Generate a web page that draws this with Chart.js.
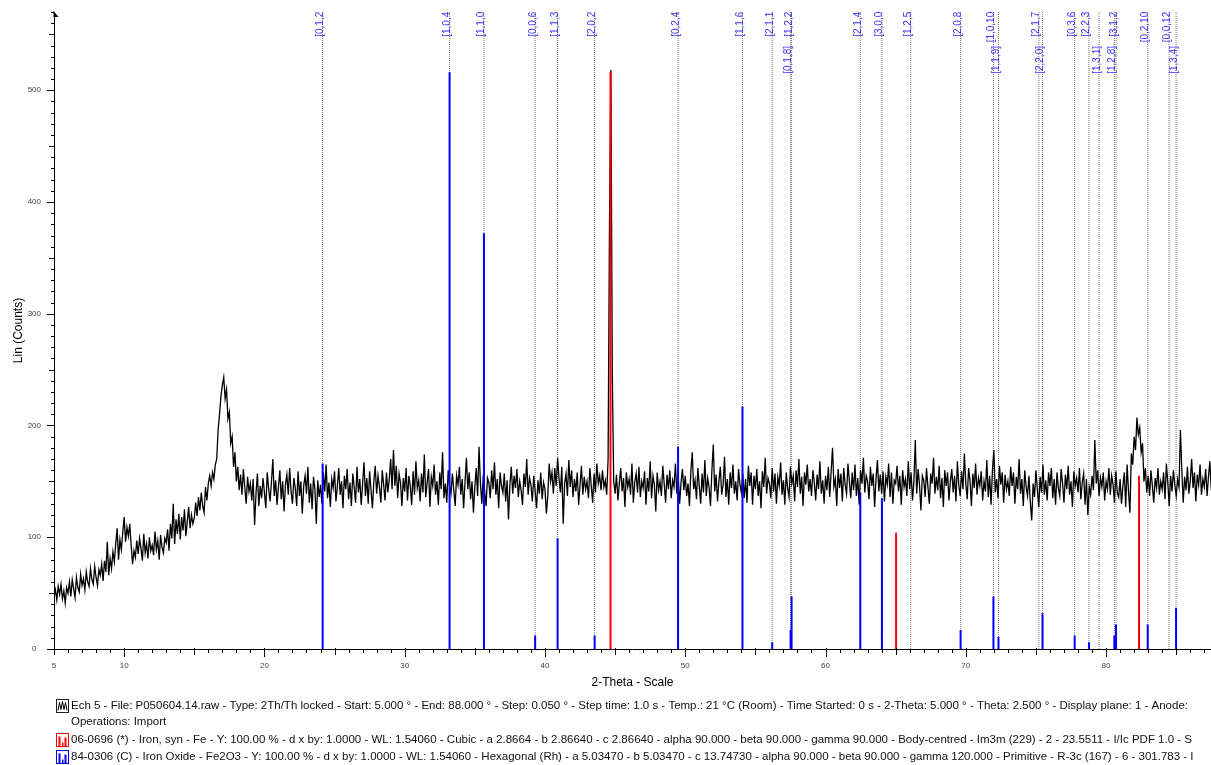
<!DOCTYPE html>
<html>
<head>
<meta charset="utf-8">
<script src="https://cdn.jsdelivr.net/npm/chart.js@4.4.1/dist/chart.umd.min.js"></script>
<style>
  html, body { margin: 0; padding: 0; background: #fff; overflow: hidden; }
  #wrap { width: 1211px; height: 765px; position: relative; }
</style>
</head>
<body>
<div id="wrap"><canvas id="xrd" width="1211" height="765"></canvas></div>
<script>
// Scan "Ech 5": 2-Theta from 5.0 to 88.0 deg, counts every 0.1 deg
const scanStart = 5.0;
const scanStep = 0.1;
const counts = [
  47,53,44,56,49,58,45,52,41,55,
  50,60,47,62,54,46,64,55,51,67,
  57,63,53,69,60,56,72,62,58,74,
  64,57,71,66,76,61,79,69,96,66,
  81,72,87,78,94,108,80,98,89,104,
  118,96,109,101,112,93,76,88,82,97,
  85,99,90,79,103,86,94,81,100,88,
  93,84,105,89,97,80,102,91,86,99,
  95,107,88,112,99,130,94,116,103,121,
  98,118,106,125,101,114,127,108,120,112,
  117,131,119,136,124,140,128,122,145,133,
  148,155,146,158,152,165,170,196,210,226,
  236,243,224,232,206,212,184,190,163,176,
  150,163,142,156,138,161,145,130,154,141,
  148,133,152,111,139,157,128,146,135,153,
  140,126,158,144,132,149,170,137,151,129,
  145,160,134,150,123,147,156,138,162,141,
  130,153,144,128,159,137,150,121,146,155,
  139,163,131,148,125,154,143,112,151,136,
  147,130,158,141,165,135,149,127,152,144,
  159,132,146,162,138,150,126,155,143,161,
  134,149,128,157,145,131,163,140,152,129,
  148,167,137,153,130,159,142,126,150,164,
  139,155,145,131,160,147,133,158,140,152,
  170,143,178,146,164,135,157,149,128,153,
  141,162,133,155,146,129,159,138,168,144,
  151,132,157,140,174,136,149,161,127,154,
  146,165,138,150,129,158,143,176,135,148,
  131,160,145,139,157,142,128,155,147,163,
  138,152,126,149,171,143,158,134,150,122,
  145,162,137,181,148,130,156,141,128,153,
  149,135,160,143,167,138,152,126,158,146,
  140,157,132,151,116,147,163,139,155,144,
  161,136,150,142,129,157,145,170,138,153,
  147,132,155,141,126,151,139,158,134,149,
  143,121,137,166,150,158,139,162,146,171,
  153,140,163,112,148,157,137,169,145,160,
  136,152,141,158,129,147,164,138,154,143,
  150,135,162,146,131,157,140,166,148,155,
  142,160,145,151,138,170,380,518,245,150,
  139,156,133,148,162,141,153,127,158,145,
  152,138,166,131,149,157,140,163,136,150,
  144,159,129,153,141,168,135,155,147,123,
  158,142,150,137,164,148,131,156,143,160,
  135,151,145,166,139,154,130,149,161,142,
  155,137,148,128,159,176,143,151,134,162,
  146,130,157,140,169,137,153,145,128,160,
  183,141,156,132,150,163,138,147,172,136,
  152,129,158,144,165,139,150,133,161,147,
  140,157,135,152,131,164,146,158,129,155,
  143,161,137,150,126,159,145,171,139,153,
  148,135,162,141,157,130,154,146,167,138,
  151,129,158,144,136,163,148,155,132,160,
  145,170,139,154,128,158,147,165,141,152,
  137,160,149,133,156,143,168,139,151,130,
  155,142,163,136,159,180,145,152,128,161,
  144,157,132,162,147,139,166,150,135,158,
  142,165,137,153,129,160,148,171,140,155,
  150,134,163,146,157,127,152,169,141,156,
  139,159,132,154,147,166,136,158,130,151,
  148,164,141,155,129,160,145,152,137,168,
  143,158,133,150,187,139,161,147,124,155,
  151,136,162,145,130,157,148,171,139,154,
  142,164,135,153,127,160,146,158,133,150,
  161,140,155,132,168,147,137,159,143,175,
  148,134,162,151,128,157,144,166,138,153,
  146,159,133,150,141,169,136,155,129,160,
  178,140,152,135,164,147,158,131,156,143,
  150,137,163,146,158,130,154,143,170,139,
  152,128,160,145,137,155,131,115,148,136,
  160,143,127,154,140,165,138,151,133,158,
  146,162,135,152,129,158,144,137,161,148,
  131,156,143,164,138,150,127,159,146,153,
  140,162,134,149,157,129,152,120,145,138,
  155,142,187,148,160,137,153,145,158,133,
  150,143,162,138,155,147,131,159,140,136,
  152,130,146,158,127,165,141,122,175,165,
  190,178,207,192,198,176,184,150,162,140,
  155,137,160,146,131,153,144,162,138,150,
  143,158,134,166,149,128,155,141,160,147,
  137,152,145,196,160,131,154,142,163,139,
  150,170,144,158,132,156,147,165,138,152,
  145,161,137,154,168,142,159,150,171,148,
  155
];

// 06-0696 (*) Iron, syn - Fe : reflection positions (deg 2-Theta) and scaled heights
const fePos = [44.67, 65.03, 82.35];
const feInt = [516, 104, 155];

// 84-0306 (C) Iron Oxide - Fe2O3 : hkl, positions (deg 2-Theta) and scaled heights
const hemHkl = ['[0,1,2]', '[1,0,4]', '[1,1,0]', '[0,0,6]', '[1,1,3]', '[2,0,2]', '[0,2,4]', '[1,1,6]', '[2,1,1]',
                '[1,2,2]', '[0,1,8]', '[2,1,4]', '[3,0,0]', '[1,2,5]', '[2,0,8]', '[1,0,10]', '[1,1,9]', '[2,1,7]',
                '[2,2,0]', '[0,3,6]', '[2,2,3]', '[1,3,1]', '[3,1,2]', '[1,2,8]', '[0,2,10]', '[0,0,12]', '[1,3,4]'];
const hemPos = [24.15, 33.20, 35.65, 39.30, 40.90, 43.54, 49.49, 54.08, 56.20,
                57.58, 57.51, 62.48, 64.02, 66.07, 69.63, 71.97, 72.33, 75.21,
                75.47, 77.76, 78.78, 79.50, 80.71, 80.59, 82.97, 84.49, 84.99];
const hemInt = [166, 516, 372, 12, 99, 12, 181, 217, 6,
                47, 17, 140, 135, 0, 17, 47, 11, 0,
                32, 12, 6, 0, 22, 12, 22, 0, 37];

// axis tick labels
const xTickLabels = [5, 10, 20, 30, 40, 50, 60, 70, 80];
const yTickLabels = [0, 100, 200, 300, 400, 500];

// legend lines under the plot
const legendKinds = ['scan', 'none', 'sticks', 'sticks'];
const legendColors = ['#000000', '#000000', '#ff0000', '#0000ff'];
const legendTexts = [
  'Ech 5 - File: P050604.14.raw - Type: 2Th/Th locked - Start: 5.000 ° - End: 88.000 ° - Step: 0.050 ° - Step time: 1.0 s - Temp.: 21 °C (Room) - Time Started: 0 s - 2-Theta: 5.000 ° - Theta: 2.500 ° - Display plane: 1 - Anode:',
  'Operations: Import',
  '06-0696 (*) - Iron, syn - Fe - Y: 100.00 % - d x by: 1.0000 - WL: 1.54060 - Cubic - a 2.8664 - b 2.86640 - c 2.86640 - alpha 90.000 - beta 90.000 - gamma 90.000 - Body-centred - Im3m (229) - 2 - 23.5511 - I/Ic PDF 1.0 - S',
  '84-0306 (C) - Iron Oxide - Fe2O3 - Y: 100.00 % - d x by: 1.0000 - WL: 1.54060 - Hexagonal (Rh) - a 5.03470 - b 5.03470 - c 13.74730 - alpha 90.000 - beta 90.000 - gamma 120.000 - Primitive - R-3c (167) - 6 - 301.783 - I'
];

const X_MIN = 5, X_MAX = 87.48, Y_MAX = 570;
const FONT = '"Liberation Sans", Arial, Helvetica, sans-serif';
Chart.defaults.font.family = FONT;

const scanPoints = counts.map((c, i) => ({ x: Math.round((scanStart + i * scanStep) * 100) / 100, y: c }));

// vertical segments from a base value up to a top value, separated by gaps
function sticks(pos, tops) {
  const pts = [];
  pos.forEach((p, i) => { pts.push({ x: p, y: 0 }, { x: p, y: tops[i] }, { x: p, y: null }); });
  return pts;
}

// fixed scale boxes without the extra edge padding added for tick labels
function fixBox(size) {
  return s => {
    if (s.isHorizontal()) s.height = size; else s.width = size;
    s.paddingLeft = 0; s.paddingRight = 0; s.paddingTop = 0; s.paddingBottom = 0;
  };
}

const decor = {
  id: 'decor',
  afterDraw(chart) {
    const { ctx, chartArea: a, scales: { x, y } } = chart;
    const y0 = y.getPixelForValue(0);
    ctx.save();

    // axis lines
    ctx.strokeStyle = '#000';
    ctx.lineWidth = 1;
    ctx.beginPath();
    ctx.moveTo(a.left, y0 + 0.5); ctx.lineTo(a.right, y0 + 0.5);
    ctx.moveTo(a.left + 0.5, y0); ctx.lineTo(a.left + 0.5, a.top);
    ctx.stroke();

    // arrow head on the intensity axis
    ctx.fillStyle = '#000';
    ctx.beginPath();
    ctx.moveTo(a.left - 0.5, a.top - 1);
    ctx.lineTo(a.left + 4.5, a.top + 5);
    ctx.lineTo(a.left - 0.5, a.top + 5);
    ctx.closePath();
    ctx.fill();

    // tick marks
    ctx.beginPath();
    for (let t = Math.ceil(X_MIN); t <= X_MAX; t++) {
      const px = Math.round(x.getPixelForValue(t)) + 0.5;
      const len = t % 10 === 0 ? 7 : (t % 5 === 0 ? 5 : 3);
      ctx.moveTo(px, y0 + (t % 5 === 0 ? -1 : 0));
      ctx.lineTo(px, y0 + 1 + len);
    }
    for (let v = 0; v <= Y_MAX; v += 10) {
      const py = Math.round(y.getPixelForValue(v)) + 0.5;
      const len = v % 100 === 0 ? 7 : (v % 50 === 0 ? 5 : 3);
      ctx.moveTo(a.left, py);
      ctx.lineTo(a.left - len, py);
    }
    ctx.stroke();

    // hkl labels of the Fe2O3 reflections, two tiers when crowded
    ctx.save();
    ctx.beginPath();
    ctx.rect(a.left, a.top, a.right - a.left, a.bottom - a.top);
    ctx.clip();
    ctx.fillStyle = 'rgb(52,52,255)';
    ctx.font = '10px ' + FONT;
    const placed = [];
    hemHkl.forEach((lab, i) => {
      const px = x.getPixelForValue(hemPos[i]);
      const crowded = placed.some(q => Math.abs(q - px) < 12);
      if (!crowded) placed.push(px);
      const yEnd = crowded ? a.top + 34 : a.top - 3;
      ctx.save();
      ctx.translate(px + 0.5, yEnd);
      ctx.rotate(-Math.PI / 2);
      ctx.textAlign = 'right';
      ctx.textBaseline = 'alphabetic';
      ctx.fillText(lab, 0, 0);
      ctx.restore();
    });
    ctx.restore();

    // legend rows
    const rowY = [705.5, 722, 739.5, 756.5];
    ctx.font = '11.5px ' + FONT;
    ctx.textBaseline = 'middle';
    ctx.textAlign = 'left';
    legendTexts.forEach((txt, i) => {
      const cy = rowY[i];
      const col = legendColors[i];
      const bx = 56.5, by = Math.round(cy - 6.5) + 0.5;
      if (legendKinds[i] === 'scan') {
        ctx.strokeStyle = '#222';
        ctx.lineWidth = 1;
        ctx.strokeRect(bx, by, 12, 13);
        ctx.strokeStyle = '#000';
        ctx.beginPath();
        ctx.moveTo(bx + 1.5, by + 11);
        ctx.lineTo(bx + 3, by + 3);
        ctx.lineTo(bx + 4.5, by + 10);
        ctx.lineTo(bx + 6, by + 2);
        ctx.lineTo(bx + 7.5, by + 10);
        ctx.lineTo(bx + 9, by + 3);
        ctx.lineTo(bx + 10.5, by + 11);
        ctx.stroke();
      } else if (legendKinds[i] === 'sticks') {
        ctx.strokeStyle = col;
        ctx.lineWidth = 1;
        ctx.strokeRect(bx, by, 12, 13);
        ctx.fillStyle = col;
        ctx.fillRect(bx + 2, by + 3, 2, 10);
        ctx.fillRect(bx + 5.5, by + 9, 1.5, 4);
        ctx.fillRect(bx + 8, by + 4, 2, 9);
      }
      ctx.fillStyle = '#111';
      ctx.fillText(txt, 71, cy);
    });

    ctx.restore();
  }
};

new Chart(document.getElementById('xrd'), {
  type: 'line',
  data: {
    datasets: [
      { label: '84-0306 positions', data: sticks(hemPos, hemPos.map(() => Y_MAX)), borderColor: '#7a7a7a',
        borderWidth: 1, borderDash: [1, 1], pointRadius: 0, spanGaps: false, order: 3 },
      { label: 'Ech 5', data: scanPoints, borderColor: '#000', borderWidth: 1.3, pointRadius: 0, order: 2 },
      { label: '06-0696', data: sticks(fePos, feInt), borderColor: '#ff0000', borderWidth: 2, pointRadius: 0, spanGaps: false, order: 1 },
      { label: '84-0306', data: sticks(hemPos, hemInt), borderColor: '#0000ff', borderWidth: 2, pointRadius: 0, spanGaps: false, order: 1 }
    ]
  },
  options: {
    responsive: false,
    animation: false,
    devicePixelRatio: 1,
    layout: { autoPadding: false, padding: { top: 12, right: 0, bottom: 72, left: 0 } },
    plugins: { legend: { display: false }, tooltip: { enabled: false } },
    elements: { line: { tension: 0 }, point: { radius: 0, hoverRadius: 0 } },
    scales: {
      x: {
        type: 'linear', min: X_MIN, max: X_MAX,
        grid: { display: false, drawTicks: false }, border: { display: false },
        ticks: { stepSize: 1, autoSkip: false, maxRotation: 0, padding: 12, color: '#444', font: { size: 8 },
                 callback: v => xTickLabels.includes(v) ? String(v) : '' },
        title: { display: true, text: '2-Theta - Scale', color: '#000', font: { size: 12 }, padding: { top: 0, bottom: 3 } },
        afterFit: fixBox(44)
      },
      y: {
        type: 'linear', min: 0, max: Y_MAX,
        grid: { display: false, drawTicks: false }, border: { display: false },
        ticks: { stepSize: 100, padding: 13, crossAlign: 'center', color: '#444', font: { size: 8 },
                 callback: v => yTickLabels.includes(v) ? String(v) : '' },
        title: { display: true, text: 'Lin (Counts)', color: '#000', font: { size: 12 }, padding: { top: 11, bottom: 0 } },
        afterFit: fixBox(54)
      }
    }
  },
  plugins: [decor]
});
</script>
</body>
</html>
